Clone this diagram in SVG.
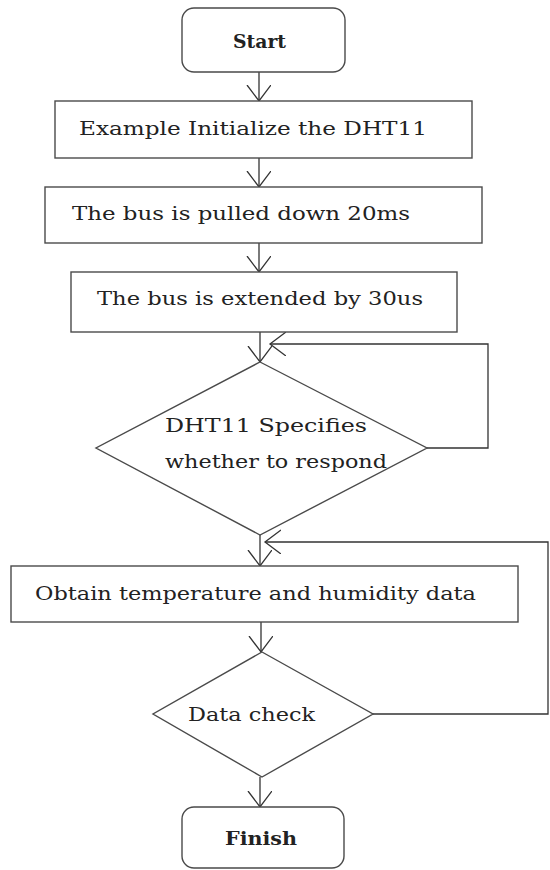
<svg xmlns="http://www.w3.org/2000/svg" width="550" height="870" viewBox="0 0 550 870">
  <style>
    .shape { fill: #ffffff; stroke: #4a4a4a; stroke-width: 1.4; }
    .conn { fill: none; stroke: #333333; stroke-width: 1.3; }
    .lbl { font-family: "DejaVu Serif", "Liberation Serif", serif; font-size: 19px; fill: #222222; }
    .term { font-weight: bold; }
  </style>
  <defs>
    <marker id="arrow" markerUnits="userSpaceOnUse" markerWidth="20" markerHeight="26" refX="16" refY="12" orient="auto" viewBox="0 0 20 26">
      <path d="M0,0 L16,12 L0,24" fill="none" stroke="#333333" stroke-width="1.3"/>
    </marker>
  </defs>
  <rect width="550" height="870" fill="#ffffff"/>

  <g id="connectors">
    <line class="conn" x1="259" y1="72" x2="259" y2="101" marker-end="url(#arrow)"/>
    <line class="conn" x1="259" y1="158" x2="259" y2="187" marker-end="url(#arrow)"/>
    <line class="conn" x1="259" y1="243" x2="259" y2="272" marker-end="url(#arrow)"/>
    <line class="conn" x1="260" y1="332" x2="260" y2="362" marker-end="url(#arrow)"/>
    <line class="conn" x1="260" y1="535" x2="260" y2="566" marker-end="url(#arrow)"/>
    <line class="conn" x1="261" y1="622" x2="261" y2="652" marker-end="url(#arrow)"/>
    <line class="conn" x1="260" y1="777" x2="260" y2="807" marker-end="url(#arrow)"/>
    <polyline class="conn" points="427,448 488,448 488,344 270,344" marker-end="url(#arrow)"/>
    <polyline class="conn" points="373,714 548,714 548,542 265,542" marker-end="url(#arrow)"/>
  </g>

  <g id="start">
    <rect class="shape" x="182" y="8" width="163" height="64" rx="12" ry="12"/>
    <text class="lbl term" x="233" y="48" textLength="53" lengthAdjust="spacingAndGlyphs">Start</text>
  </g>

  <g id="init">
    <rect class="shape" x="55" y="101" width="417" height="57"/>
    <text class="lbl" x="79" y="135" textLength="348" lengthAdjust="spacingAndGlyphs">Example Initialize the DHT11</text>
  </g>

  <g id="pulldown">
    <rect class="shape" x="45" y="187" width="437" height="56"/>
    <text class="lbl" x="72" y="220" textLength="338" lengthAdjust="spacingAndGlyphs">The bus is pulled down 20ms</text>
  </g>

  <g id="extend">
    <rect class="shape" x="71" y="272" width="386" height="60"/>
    <text class="lbl" x="97" y="305" textLength="326" lengthAdjust="spacingAndGlyphs">The bus is extended by 30us</text>
  </g>

  <g id="respond">
    <polygon class="shape" points="260,362 427,448 260,535 96,448"/>
    <text class="lbl" x="165" y="432" textLength="202" lengthAdjust="spacingAndGlyphs">DHT11 Specifies</text>
    <text class="lbl" x="165" y="468" textLength="222" lengthAdjust="spacingAndGlyphs">whether to respond</text>
  </g>

  <g id="obtain">
    <rect class="shape" x="11" y="566" width="507" height="56"/>
    <text class="lbl" x="35" y="600" textLength="441" lengthAdjust="spacingAndGlyphs">Obtain temperature and humidity data</text>
  </g>

  <g id="check">
    <polygon class="shape" points="262,652 373,714 262,777 153,714"/>
    <text class="lbl" x="188" y="721" textLength="127" lengthAdjust="spacingAndGlyphs">Data check</text>
  </g>

  <g id="finish">
    <rect class="shape" x="182" y="807" width="162" height="61" rx="12" ry="12"/>
    <text class="lbl term" x="225" y="845" textLength="72" lengthAdjust="spacingAndGlyphs">Finish</text>
  </g>
</svg>
